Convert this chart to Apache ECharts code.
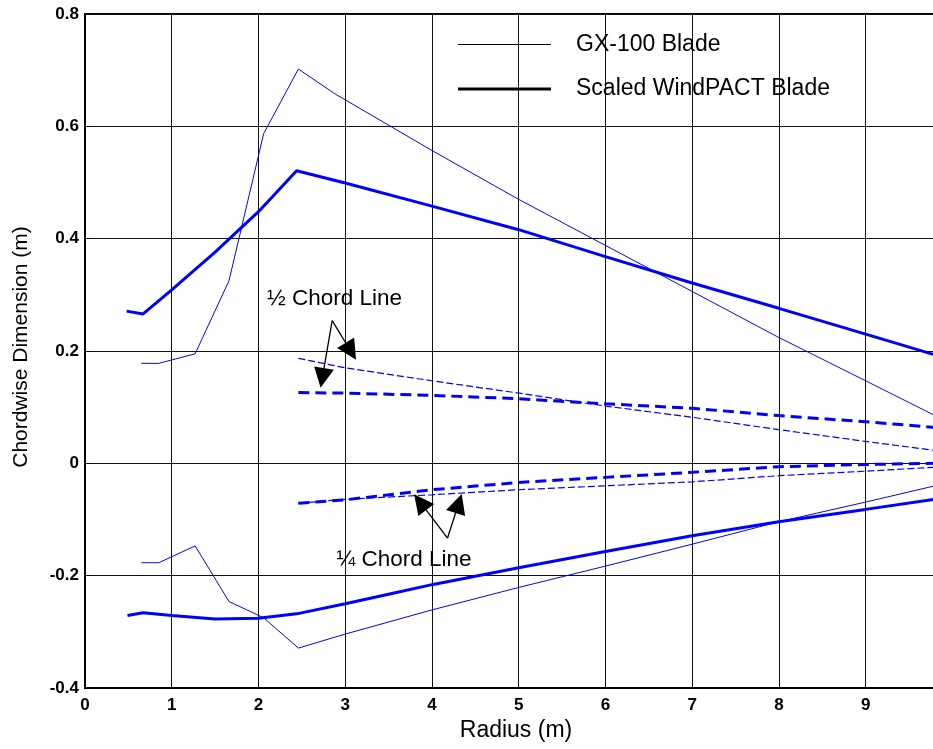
<!DOCTYPE html>
<html>
<head>
    <meta charset="utf-8">
    <script src="https://cdn.jsdelivr.net/npm/echarts@6/dist/echarts.min.js"></script>
    <style type="text/css">
        html, body { margin: 0; padding: 0; background: #fff; overflow: hidden; }
        #main { width: 936px; height: 749px; }
    </style>
</head>
<body>
    <div id="main"></div>
    <script>
        // GX-100 blade outline (radius, chordwise)
        const gxLeading = [[0.65,0.178],[0.85,0.178],[1.27,0.195],[1.66,0.325],[2.06,0.587],[2.46,0.702],[2.88,0.658],[4,0.557],[5,0.470],[6,0.388],[7,0.306],[8,0.224],[9,0.147],[9.8,0.085]];
        const gxTrailing = [[0.65,-0.177],[0.85,-0.177],[1.27,-0.147],[1.66,-0.246],[2.06,-0.275],[2.46,-0.329],[3,-0.304],[4,-0.261],[5,-0.221],[6,-0.183],[7,-0.144],[8,-0.104],[9,-0.069],[9.8,-0.040]];
        const gxHalf = [[2.46,0.187],[3,0.170],[4,0.147],[5,0.125],[6,0.102],[7,0.082],[8,0.060],[9,0.039],[9.8,0.023]];
        const gxQuarter = [[2.46,-0.071],[3,-0.064],[4,-0.056],[5,-0.047],[6,-0.040],[7,-0.033],[8,-0.022],[9,-0.014],[9.8,-0.007]];

        // scaled WindPACT blade
        const wpLeading = [[0.48,0.271],[0.67,0.266],[1,0.309],[1.5,0.376],[2,0.448],[2.44,0.521],[3,0.499],[4,0.458],[5,0.416],[6,0.368],[7,0.321],[8,0.276],[9,0.230],[9.8,0.193]];
        const wpTrailing = [[0.49,-0.271],[0.67,-0.266],[1,-0.271],[1.5,-0.277],[2,-0.276],[2.44,-0.268],[3,-0.250],[3.5,-0.233],[4,-0.216],[5,-0.186],[6,-0.157],[7,-0.129],[8,-0.104],[9,-0.082],[9.8,-0.064]];
        const wpHalf = [[2.46,0.126],[3,0.125],[4,0.121],[5,0.115],[6,0.106],[7,0.098],[8,0.085],[9,0.074],[9.8,0.064]];
        const wpQuarter = [[2.46,-0.071],[3,-0.065],[4,-0.047],[5,-0.034],[6,-0.025],[7,-0.016],[8,-0.006],[9,-0.002],[9.8,0.0]];

        // annotation arrows and labels (data coords)
        const arrows = [
            [[2.85,0.254],[2.736,0.152]],
            [[2.85,0.254],[3.065,0.1995]],
            [[4.18,-0.133],[3.865,-0.069]],
            [[4.18,-0.133],[4.308,-0.0714]]
        ];
        const notes = [
            {name: '½ Chord Line', value: [2.876,0.293]},
            {name: '¼ Chord Line', value: [3.677,-0.172]}
        ];

        const blue = '#0000ff';
        const font = '"Liberation Sans", Arial, sans-serif';

        function lineSeries(name, data, width, type) {
            return {
                name: name,
                type: 'line',
                data: data,
                showSymbol: false,
                symbol: 'none',
                silent: true,
                lineStyle: {color: blue, width: width, type: type || 'solid'},
                itemStyle: {color: blue}
            };
        }

        const legendBase = {
            selectedMode: false,
            icon: 'rect',
            itemWidth: 93,
            padding: 0,
            left: 458,
            itemStyle: {color: '#000', borderWidth: 0},
            textStyle: {fontFamily: font, fontSize: 23, color: '#000', lineHeight: 26, padding: [0,0,0,20]}
        };

        const chart = echarts.init(document.getElementById('main'));
        chart.setOption({
            animation: false,
            legend: [
                Object.assign({}, legendBase, {top: 31.5, itemHeight: 1, data: ['GX-100 Blade']}),
                Object.assign({}, legendBase, {top: 76, itemHeight: 3, data: ['Scaled WindPACT Blade']})
            ],
            grid: {
                left: 85, right: 1, top: 14, bottom: 61,
                outerBoundsMode: 'none',
                show: true, borderColor: '#000', borderWidth: 2
            },
            xAxis: {
                type: 'value',
                min: 0, max: 9.8, interval: 1,
                name: 'Radius (m)',
                nameLocation: 'middle',
                nameGap: 30,
                nameTextStyle: {fontFamily: font, fontSize: 23, color: '#000', padding: [0,0,0,12]},
                axisLine: {show: true, onZero: false, lineStyle: {color: '#000', width: 2}},
                axisTick: {show: true, inside: true, length: 5, lineStyle: {color: '#000'}},
                axisLabel: {
                    fontFamily: font, fontSize: 17, fontWeight: 'bold', color: '#000', margin: 9,
                    formatter: v => (Math.abs(v - Math.round(v)) < 1e-6 ? String(Math.round(v)) : '')
                },
                splitLine: {show: true, lineStyle: {color: '#111', width: 1}}
            },
            yAxis: {
                type: 'value',
                min: -0.4, max: 0.8, interval: 0.2,
                name: 'Chordwise Dimension (m)',
                nameLocation: 'middle',
                nameGap: 53,
                nameTextStyle: {fontFamily: font, fontSize: 21, color: '#000', padding: [0,0,0,8]},
                axisLine: {show: true, onZero: false, lineStyle: {color: '#000', width: 2}},
                axisTick: {show: true, inside: true, length: 5, lineStyle: {color: '#000'}},
                axisLabel: {fontFamily: font, fontSize: 17, fontWeight: 'bold', color: '#000', margin: 6},
                splitLine: {show: true, lineStyle: {color: '#111', width: 1}}
            },
            series: [
                lineSeries('GX-100 Blade', gxLeading, 1),
                lineSeries('GX-100 Blade', gxTrailing, 1),
                lineSeries('GX-100 Half Chord', gxHalf, 1.2, [7, 3]),
                lineSeries('GX-100 Quarter Chord', gxQuarter, 1.2, [7, 3]),
                lineSeries('Scaled WindPACT Blade', wpLeading, 3),
                lineSeries('Scaled WindPACT Blade', wpTrailing, 3),
                lineSeries('WindPACT Half Chord', wpHalf, 3, [11, 6]),
                lineSeries('WindPACT Quarter Chord', wpQuarter, 3, [11, 6]),
                {
                    name: 'arrows',
                    type: 'lines',
                    coordinateSystem: 'cartesian2d',
                    silent: true,
                    symbol: ['none', 'triangle'],
                    symbolSize: [13, 20],
                    lineStyle: {color: '#000', width: 1.3, opacity: 1, curveness: 0},
                    data: arrows.map(c => ({coords: c}))
                },
                {
                    name: 'notes',
                    type: 'scatter',
                    silent: true,
                    symbolSize: 0,
                    itemStyle: {color: 'rgba(0,0,0,0)', opacity: 1},
                    label: {
                        show: true, position: 'inside', formatter: p => p.name,
                        fontFamily: font, fontSize: 22.5, color: '#000', opacity: 1
                    },
                    data: notes
                }
            ]
        });
    </script>
</body>
</html>
